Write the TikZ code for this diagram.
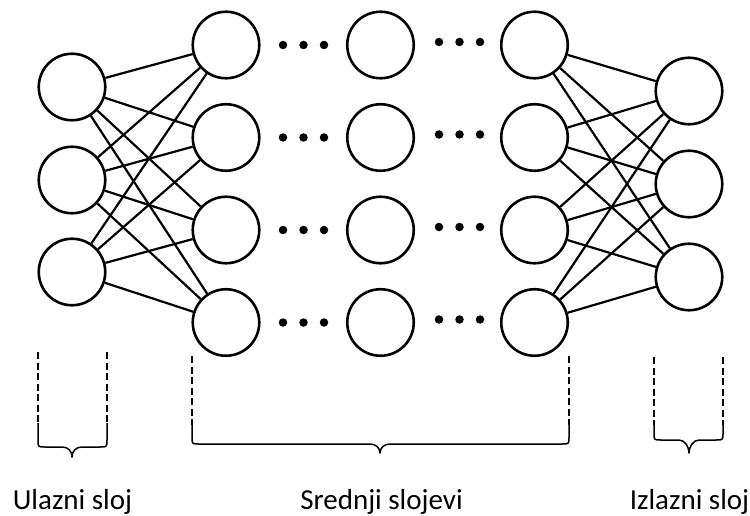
\documentclass[tikz,border=0pt]{standalone}
\usepackage{fontspec}
\setmainfont{Carlito}
\begin{document}
\begin{tikzpicture}[x=1pt,y=-1pt,
  neuron/.style={circle,draw=black,line width=2.6pt,minimum size=66.5pt,inner sep=0pt,fill=white},
  conn/.style={line width=2.2pt,black},
  dotmark/.style={circle,fill=black,inner sep=0pt,minimum size=8.5pt},
  guide/.style={line width=1.6pt,dash pattern=on 7pt off 3.5pt},
  bracepath/.style={line width=1.5pt,line join=round},
  lbl/.style={font=\fontsize{29}{34}\selectfont,anchor=base}]
\useasboundingbox (0,0) rectangle (750,516);
% input layer
\node[neuron] (i1) at (72,87) {};
\node[neuron] (i2) at (72,180) {};
\node[neuron] (i3) at (72,272) {};
% hidden columns
\foreach \r/\y in {1/45,2/137.5,3/230,4/322.5}{
  \node[neuron] (a\r) at (226,\y) {};
  \node[neuron] (b\r) at (380.5,\y) {};
  \node[neuron] (c\r) at (534.5,\y) {};
  \node[dotmark] (d\r1) at (283,\y) {};
  \node[dotmark] (d\r2) at (303.5,\y) {};
  \node[dotmark] (d\r3) at (324,\y) {};
  \node[dotmark] (e\r1) at (439,\y-3) {};
  \node[dotmark] (e\r2) at (459.5,\y-3) {};
  \node[dotmark] (e\r3) at (480,\y-3) {};
}
% output layer
\node[neuron] (o1) at (689,91) {};
\node[neuron] (o2) at (689,184) {};
\node[neuron] (o3) at (689,277) {};
% connections
\foreach \i in {1,2,3}{
  \foreach \j in {1,2,3,4}{
    \draw[conn] (i\i) -- (a\j);
    \draw[conn] (c\j) -- (o\i);
  }
}
% braces
\draw[guide] (38,352) -- (38,423);
\draw[guide] (107,352) -- (107,423);
\draw[bracepath] (38,423) -- (38,440) .. controls (38,447) .. (45,447) -- (62,447)
  .. controls (68,447) and (72,451) .. (72,457) .. controls (72,451) and (76,447) .. (82,447)
  -- (100,447) .. controls (107,447) .. (107,440) -- (107,423);
\draw[guide] (192,356) -- (192,425);
\draw[guide] (569,356) -- (569,425);
\draw[bracepath] (192,425) -- (192,437) .. controls (192,444) .. (199,444) -- (370,444)
  .. controls (376,444) and (380,448) .. (380,453) .. controls (380,448) and (384,444) .. (390,444)
  -- (562,444) .. controls (569,444) .. (569,437) -- (569,425);
\draw[guide] (654,357) -- (654,425);
\draw[guide] (723,357) -- (723,425);
\draw[bracepath] (654,425) -- (654,433) .. controls (654,440) .. (661,440) -- (679,440)
  .. controls (685,440) and (689,447) .. (689,453) .. controls (689,447) and (693,440) .. (699,440)
  -- (716,440) .. controls (723,440) .. (723,433) -- (723,425);
% labels
\node[lbl] (l1) at (72.5,509) {Ulazni sloj};
\node[lbl] (l2) at (381.5,509) {Srednji slojevi};
\node[lbl] (l3) at (689.5,509) {Izlazni sloj};
\end{tikzpicture}
\end{document}
